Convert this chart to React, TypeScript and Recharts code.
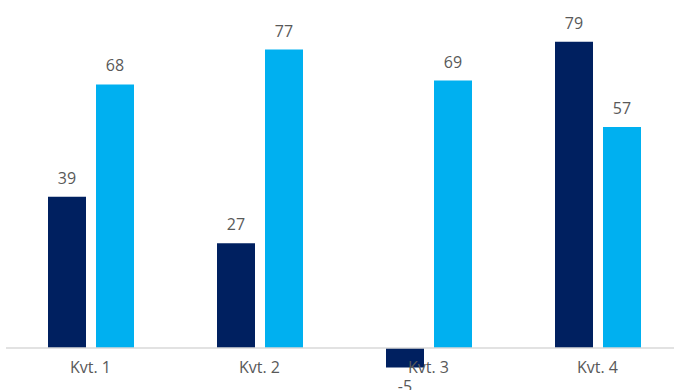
import React from "react";
import { BarChart, Bar, XAxis, YAxis, ReferenceLine, LabelList } from "recharts";

const categories = ["Kvt. 1", "Kvt. 2", "Kvt. 3", "Kvt. 4"];
const seriesA = [39, 27, -5, 79];
const seriesB = [68, 77, 69, 57];

const data = categories.map((name, i) => ({ name, a: seriesA[i], b: seriesB[i] }));

const FONT = "'Open Sans', 'DejaVu Sans', sans-serif";
const TEXT = "#595959";

const Tick = (props: any) => {
  const { x, y, payload } = props;
  return (
    <text x={x} y={y} dy={6} textAnchor="middle" fill={TEXT} fontSize={16} fontFamily={FONT}>
      {payload.value}
    </text>
  );
};

export default function App() {
  return (
    <div style={{ position: "absolute", left: 0, top: 0, width: 674, height: 390, overflow: "hidden", background: "#fff" }}>
      <BarChart
        width={690}
        height={390}
        data={data}
        margin={{ top: 18.5, right: 8, left: 6, bottom: 0 }}
        barSize={38}
        barGap={10}
      >
        <YAxis hide domain={[-5, 85]} />
        <XAxis
          dataKey="name"
          height={22.6}
          axisLine={false}
          tickLine={false}
          tickSize={0}
          tickMargin={0}
          tick={<Tick />}
          interval={0}
        />
        <ReferenceLine y={0} stroke="#d9d9d9" strokeWidth={1.5} />
        <Bar dataKey="a" fill="#002060" isAnimationActive={false}>
          <LabelList dataKey="a" position="top" offset={13} fill={TEXT} fontSize={16} fontFamily={FONT} />
        </Bar>
        <Bar dataKey="b" fill="#00b0f0" isAnimationActive={false}>
          <LabelList dataKey="b" position="top" offset={13} fill={TEXT} fontSize={16} fontFamily={FONT} />
        </Bar>
      </BarChart>
    </div>
  );
}
